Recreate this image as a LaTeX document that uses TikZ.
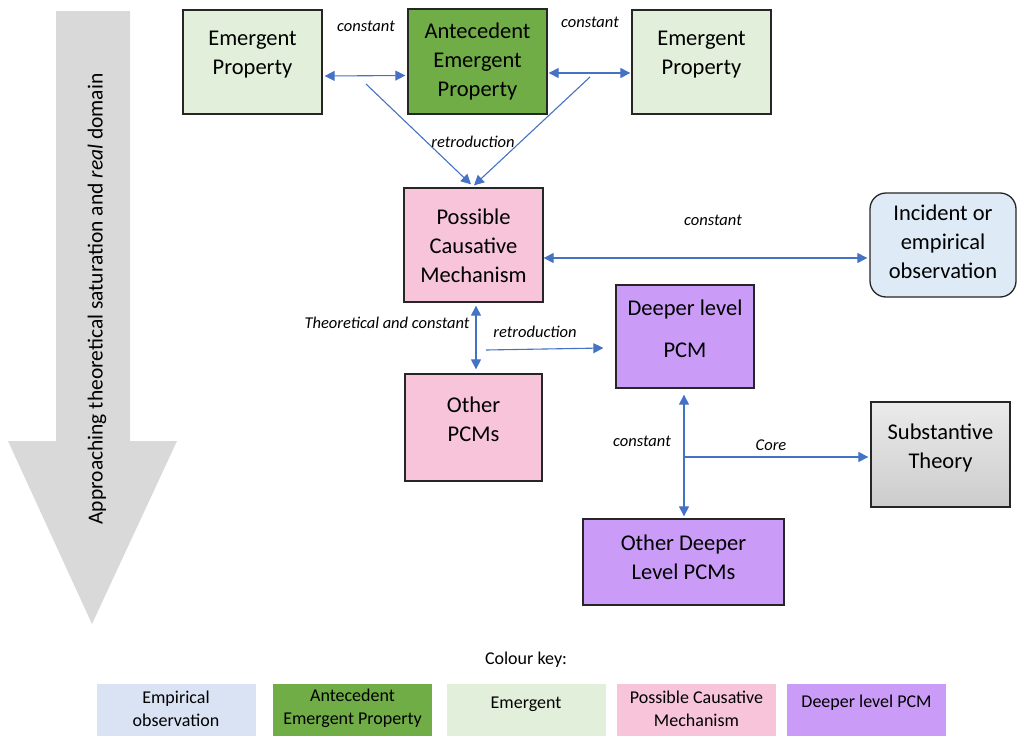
\documentclass[tikz,border=0pt]{standalone}
\usepackage{fontspec}
\setmainfont{Carlito}
\usetikzlibrary{arrows.meta}
\definecolor{emgreen}{HTML}{E2EFDA}
\definecolor{antgreen}{HTML}{70AD47}
\definecolor{pcmpink}{HTML}{F8C4D9}
\definecolor{obsblue}{HTML}{DEEBF7}
\definecolor{deeppurple}{HTML}{CA9CF8}
\definecolor{keyblue}{HTML}{DAE3F3}
\definecolor{linkblue}{HTML}{4472C4}
\definecolor{bigarrow}{HTML}{D9D9D9}
\definecolor{edgegrey}{HTML}{262626}
\tikzset{
  box/.style={draw=edgegrey, line width=1.3pt, minimum width=#1, inner sep=0pt},
  boxtext/.style={align=center, font=\fontsize{22.5}{29}\selectfont},
  lbl/.style={font=\fontsize{16.5}{19}\itshape},
  link/.style={draw=linkblue, line width=1.1pt},
  tip/.style={-{Triangle[length=10pt,width=10pt]}},
  both/.style={{Triangle[length=10pt,width=10pt]}-{Triangle[length=10pt,width=10pt]}},
  keybox/.style={minimum width=159pt, minimum height=52pt, inner sep=0pt},
  keytext/.style={align=center, font=\fontsize{18}{23}\selectfont},
}
\begin{document}
\begin{tikzpicture}[x=1pt,y=-1pt]
\useasboundingbox (0,0) rectangle (1018,736);

% direction arrow on the left
\fill[bigarrow] (56,11) -- (130,11) -- (130,441) -- (177,441) -- (92,624)
  -- (8,441) -- (56,441) -- cycle;
\node[rotate=90, font=\fontsize{21.5}{25}\selectfont] (dir) at (97,299)
  {Approaching theoretical saturation and \textit{real} domain};

% boxes
\node[box=139pt, minimum height=104pt, fill=emgreen] (el) at (252.5,62) {};
\node[boxtext] at ([yshift=7.5pt]el.center) {Emergent\\Property};
\node[box=139pt, minimum height=105pt, fill=antgreen] (ant) at (477.5,61.5) {};
\node[boxtext] at (ant.center) {Antecedent\\Emergent\\Property};
\node[box=139pt, minimum height=104pt, fill=emgreen] (er) at (701.5,62) {};
\node[boxtext] at ([yshift=7.5pt]er.center) {Emergent\\Property};

\node[box=139pt, minimum height=114pt, fill=pcmpink] (pcm) at (473.5,245) {};
\node[boxtext] at ([yshift=-1pt]pcm.center) {Possible\\Causative\\Mechanism};

\node[box=146pt, minimum height=104pt, fill=obsblue, rounded corners=16pt] (inc) at (943,245) {};
\node[boxtext] at ([yshift=3pt]inc.center) {Incident or\\empirical\\observation};

\node[box=138pt, minimum height=103pt, fill=deeppurple] (deep) at (685,336.5) {};
\node[boxtext] at ([yshift=8pt]deep.center) {Deeper level\\[13pt]PCM};

\node[box=137pt, minimum height=107pt, fill=pcmpink] (opcm) at (473.5,427.5) {};
\node[boxtext] at ([yshift=8pt]opcm.center) {Other\\PCMs};

\node[box=139pt, minimum height=105pt, top color=white!92!black, bottom color=white!80!black] (sub) at (940.5,454.5) {};
\node[boxtext] at ([yshift=7pt]sub.center) {Substantive\\Theory};

\node[box=201pt, minimum height=86pt, fill=deeppurple] (odeep) at (683.5,562) {};
\node[boxtext] at ([yshift=4.5pt]odeep.center) {Other Deeper\\Level PCMs};

% connectors
\draw[link, both] ([shift={(2pt,-14pt)}]el.east) -- ([shift={(-2pt,-14pt)}]ant.west);
\draw[link, both] ([shift={(1pt,-11.5pt)}]ant.east) -- ([shift={(-1pt,-11pt)}]er.west);
\coordinate (r1) at (366,84);
\coordinate (r2) at (590,77);
\draw[link, tip] (r1) -- ([shift={(-2.5pt,3pt)}]pcm.north);
\draw[link, tip] (r2) -- ([shift={(0.5pt,2pt)}]pcm.north);
\draw[link, both] ([shift={(0pt,-13pt)}]pcm.east) -- ([shift={(-2pt,-13pt)}]inc.west);
\draw[link, both] ([shift={(2.5pt,-3pt)}]pcm.south) -- ([shift={(2.5pt,4pt)}]opcm.north);
\coordinate (r3) at (486,350);
\draw[link, tip] (r3) -- ([shift={(-12pt,-11.5pt)}]deep.west);
\draw[link, both] ([shift={(-1pt,-6pt)}]deep.south) -- ([shift={(0.5pt,2pt)}]odeep.north);
\coordinate (core) at (684,457);
\draw[link, tip] (core) -- ([shift={(-2pt,-2.5pt)}]sub.west);

% connector labels
\node[lbl] (c1) at (366,26) {constant};
\node[lbl] (c2) at (590,22) {constant};
\node[lbl] (rt1) at (473,142) {retroduction};
\node[lbl] (c3) at (713,220) {constant};
\node[lbl] (tc) at (387,323) {Theoretical and constant};
\node[lbl] (rt2) at (535,332) {retroduction};
\node[lbl] (c4) at (642,441) {constant};
\node[lbl] (cr) at (771,445) {Core};

% colour key
\node[keytext] (key) at (526,660) {Colour key:};
\node[keybox, fill=keyblue] (k1) at (176,710) {};
\node[keytext] at ([yshift=1.5pt]k1.center) {Empirical\\observation};
\node[keybox, fill=antgreen] (k2) at (352.5,710) {};
\node[keytext] at ([yshift=1.5pt]k2.center) {Antecedent\\Emergent Property};
\node[keybox, fill=emgreen] (k3) at (526,710) {};
\node[keytext] at ([yshift=6pt]k3.center) {Emergent};
\node[keybox, fill=pcmpink] (k4) at (696.5,710) {};
\node[keytext] at ([yshift=1.5pt]k4.center) {Possible Causative\\Mechanism};
\node[keybox, fill=deeppurple] (k5) at (866.5,710) {};
\node[keytext] at ([yshift=7pt]k5.center) {Deeper level PCM};
\end{tikzpicture}
\end{document}
